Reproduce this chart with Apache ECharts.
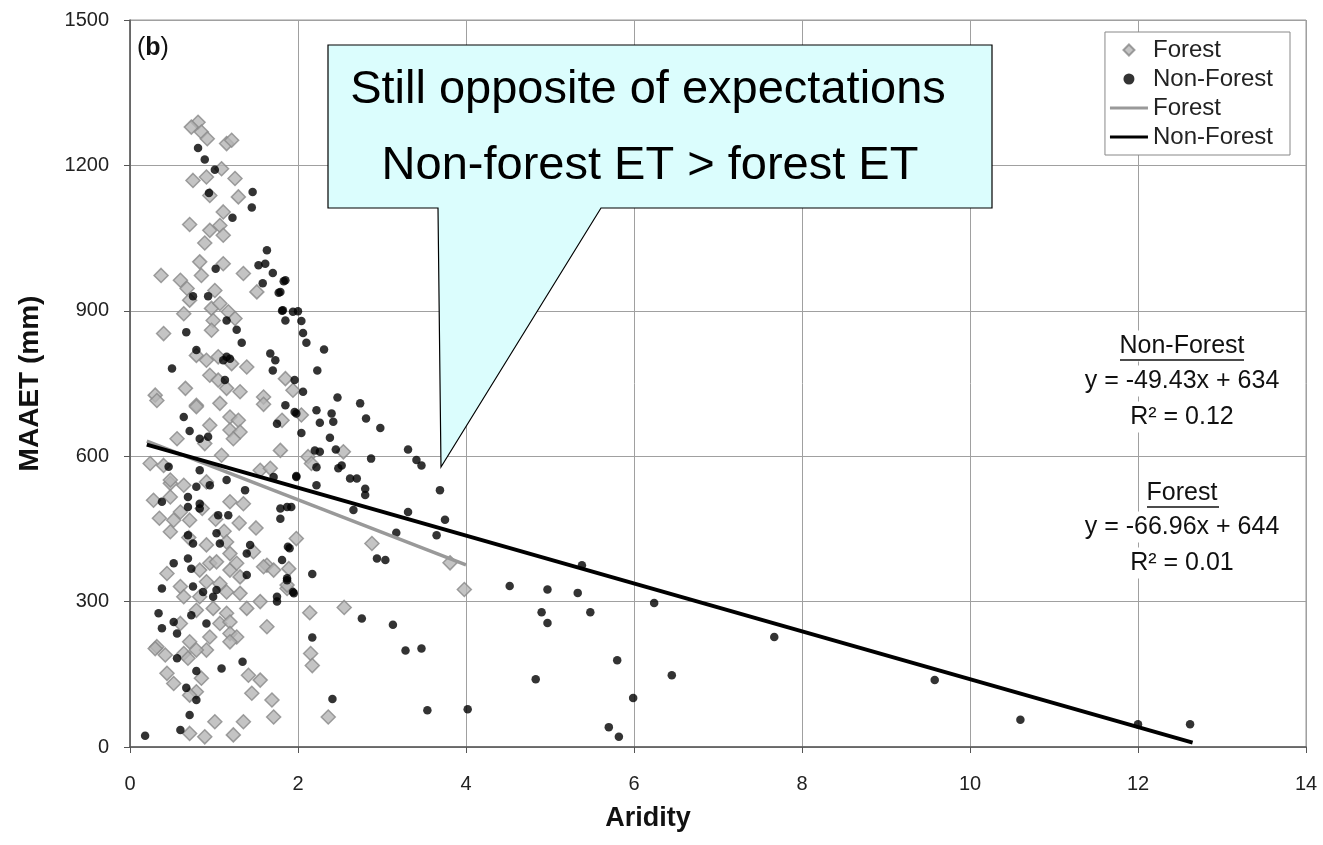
<!DOCTYPE html>
<html><head><meta charset="utf-8">
<script src="https://cdn.jsdelivr.net/npm/echarts@6/dist/echarts.min.js"></script>
<style>html,body{margin:0;padding:0;background:#fff}#c{width:1323px;height:845px}</style>
</head><body><div id="c"></div>
<script>
// Forest (gray diamonds): [aridity, MAAET]
const forestPoints = [
[0.81,1289],[0.73,1279],[0.85,1269],[0.92,1255],[1.15,1245],[1.21,1252],[0.75,1169],[0.91,1176],[1.09,1193],[1.25,1173],
[1.29,1135],[0.95,1138],[1.11,1104],[1.07,1076],[0.95,1066],[0.71,1078],[0.89,1040],[1.11,1056],
[0.37,973],[0.6,963],[0.83,1001],[1.11,997],[1.35,977],[0.68,946],[0.85,973],[1.01,942],[0.71,922],[0.64,894],
[0.97,905],[1.07,915],[1.17,898],[0.99,880],[1.25,884],[0.97,860],[0.4,853],[1.51,939],[0.79,808],[0.91,798],
[1.05,805],[1.21,791],[1.39,784],[0.95,767],[1.05,757],[0.66,740],[0.3,726],[1.15,740],[1.31,733],[1.85,760],
[1.94,736],[1.59,722],
[2.04,685],[1.79,612],[2.12,599],[2.16,585],[2.54,609],[1.81,674],
[1.98,430],[2.88,420],[3.81,380],[3.98,325],[2.14,277],[2.55,288],[2.15,193],[2.17,168],[2.36,62],[1.89,368],[1.87,327],
[0.32,715],[0.79,705],[1.07,709],[1.59,707],[0.95,664],[1.19,681],[1.29,674],[1.19,654],[1.31,650],[1.23,636],
[0.56,636],[0.89,626],[0.24,585],[0.4,581],[1.09,602],[1.55,571],[1.67,575],[0.48,544],[0.64,540],[0.91,547],
[0.28,509],[0.48,516],[1.19,506],[1.35,502],[0.52,468],[0.71,468],[0.79,702],[0.48,551],
[0.6,485],[0.86,492],[1.02,470],[1.3,462],[1.5,452],[0.35,472],[1.12,445],[0.7,432],
[0.48,444],[0.91,417],[1.15,423],[1.19,399],[1.47,403],[1.63,375],[0.44,358],[0.6,331],[0.83,365],[0.95,379],
[1.03,382],[1.19,365],[1.27,379],[1.31,351],[0.91,341],[1.07,337],[1.15,320],[0.64,310],[0.83,310],[1.31,317],
[1.59,372],[1.71,365],[1.87,334],[1.55,300],[1.39,286],[0.79,282],[0.99,286],[1.15,276],[0.6,255],[1.07,255],
[1.19,258],[1.63,248],[0.32,207],[0.71,217],[1.19,234],[1.27,227],[0.95,227],
[0.3,203],[0.42,190],[0.64,193],[0.69,183],[0.91,200],[0.79,200],[0.44,152],[0.52,131],[0.85,142],[0.79,114],
[0.71,107],[1.41,148],[1.55,138],[1.45,111],[1.69,97],[1.71,62],[1.01,52],[1.35,52],[1.23,25],[0.89,21],[0.71,28],[1.19,217]
];
// Non-forest (black dots): [aridity, MAAET]
const nonForestPoints = [
[0.81,1236],[0.89,1212],[1.01,1191],[0.94,1143],[1.46,1145],[1.45,1113],[1.22,1092],[1.63,1025],
[1.02,987],[1.53,994],[1.61,997],[1.7,978],[1.83,961],[1.58,957],[1.77,937],[0.75,930],[0.93,930],[1.81,900],
[1.94,898],[2.0,899],[1.85,880],[2.04,879],[2.06,854],[2.1,834],[1.15,880],[1.27,861],[0.67,856],[0.79,819],
[1.33,834],[1.15,805],[1.11,798],[1.19,801],[1.67,812],[1.73,798],[1.7,777],[0.5,781],[1.13,757],[1.96,757],
[2.06,733],
[1.85,963],[1.79,939],[1.82,901],[2.31,820],[2.23,777],[2.47,721],[2.74,709],[2.81,678],[2.98,658],[1.85,705],
[1.96,691],[2.22,695],[2.4,688],[2.42,671],[2.26,669],[2.04,648],[2.38,638],[2.2,612],[2.26,609],[2.45,614],
[2.87,595],[3.31,614],[3.41,592],[3.47,581],[2.52,581],[2.48,575],[2.22,577],[2.62,554],[2.7,554],[2.8,533],
[2.8,520],[3.69,530],[1.98,557],[2.22,540],[3.31,485],[2.66,489],[3.75,469],[1.87,495],[1.92,495],
[3.65,437],[3.17,442],[2.94,389],[3.04,386],[2.17,357],[1.9,410],[1.87,344],[1.95,317],[4.52,332],[2.76,265],
[3.13,252],[3.28,199],[3.47,203],[2.17,226],[2.41,99],[3.54,76],[4.02,78],
[4.9,278],[4.97,256],[4.97,325],[4.83,140],[5.33,318],[5.38,375],[5.48,278],[5.8,179],[5.7,41],[5.82,21],
[5.99,101],[6.24,297],[6.45,148],[7.67,227],[9.58,138],[10.6,56],[12.0,47],[12.62,47],
[0.64,681],[0.71,652],[0.83,636],[0.93,640],[0.46,578],[0.83,571],[0.95,540],[1.15,551],[1.37,530],[0.79,537],
[0.38,506],[0.69,516],[0.69,495],[0.83,502],[0.83,492],[1.05,478],[1.17,478],[1.79,492],[1.79,471],[1.98,688],
[1.75,667],[1.98,559],[1.71,557],
[0.69,437],[0.75,420],[1.03,441],[1.07,420],[0.52,379],[0.69,389],[0.73,368],[1.43,417],[1.39,399],[1.39,355],
[1.81,386],[1.88,413],[1.87,348],[1.94,320],[0.38,327],[0.75,331],[0.87,320],[0.99,310],[1.03,324],[1.75,310],
[1.75,300],[0.34,276],[0.38,245],[0.52,258],[0.56,234],[0.73,272],[0.91,255],
[0.56,183],[0.79,157],[0.79,97],[0.67,122],[1.09,162],[1.34,176],[0.71,66],[0.6,35],[0.18,23]
];
// Trend line end points (from the printed equations)
const forestFitLine = [[0.2,631],[4.0,376]];
const nonForestFitLine = [[0.2,624],[12.65,9]];
const xTicks = [0,2,4,6,8,10,12,14];
const yTicks = [0,300,600,900,1200,1500];
const calloutLines = ['Still opposite of expectations','Non-forest ET > forest ET'];
const nonForestEq = ['Non-Forest','y = -49.43x + 634','R² = 0.12'];
const forestEq = ['Forest','y = -66.96x + 644','R² = 0.01'];

const FONT = 'Arial, "Liberation Sans", sans-serif';
const chart = echarts.init(document.getElementById('c'));
const eqText = (t, x, y) => ({type:'text', z:50, style:{text:t, x, y, align:'center', verticalAlign:'middle',
  font:'25px '+FONT, fill:'#111', backgroundColor:'#fff', padding:[3,6]}});
const lineIcon = 'path://M0,0 H40 V3 H0 Z';
chart.setOption({
  animation:false,
  backgroundColor:'#fff',
  grid:{left:130, right:17, top:20, bottom:98, show:true, borderColor:'#999', borderWidth:1},
  xAxis:{type:'value', min:0, max:14, interval:2,
    name:'Aridity', nameLocation:'middle', nameGap:58,
    nameTextStyle:{fontFamily:FONT, fontSize:27, fontWeight:'bold', color:'#111', padding:[0,140,0,0]},
    axisLine:{show:true, lineStyle:{color:'#555', width:1.5}},
    axisTick:{show:true, inside:false, length:6, lineStyle:{color:'#555'}},
    axisLabel:{fontFamily:FONT, fontSize:20, color:'#222', margin:27,
      formatter:v=>xTicks.includes(v)?String(v):''},
    splitLine:{show:true, lineStyle:{color:'#a0a0a0', width:1}}},
  yAxis:{type:'value', min:0, max:1500, interval:300,
    name:'MAAET (mm)', nameLocation:'middle', nameGap:86, nameRotate:90,
    nameTextStyle:{fontFamily:FONT, fontSize:28, fontWeight:'bold', color:'#111'},
    axisLine:{show:true, lineStyle:{color:'#555', width:1.5}},
    axisTick:{show:true, inside:false, length:6, lineStyle:{color:'#555'}},
    axisLabel:{fontFamily:FONT, fontSize:20, color:'#222', margin:21,
      formatter:v=>yTicks.includes(v)?String(v):''},
    splitLine:{show:true, lineStyle:{color:'#a0a0a0', width:1}}},
  legend:{orient:'vertical', right:33, top:32, itemWidth:38, itemHeight:11, itemGap:3,
    symbolKeepAspect:true,
    borderColor:'#888', borderWidth:1, padding:[5,17,5,5], backgroundColor:'#fff',
    textStyle:{fontFamily:FONT, fontSize:24, color:'#222', lineHeight:26},
    formatter:n=>n.replace(' fit',''),
    data:[
      {name:'Forest', icon:'path://M5,0 L10,5 L5,10 L0,5 Z'},
      {name:'Non-Forest', icon:'circle'},
      {name:'Forest fit', icon:lineIcon},
      {name:'Non-Forest fit', icon:lineIcon}]},
  series:[
    {name:'Forest', type:'scatter', data:forestPoints, symbol:'diamond', symbolSize:14, z:2,
      itemStyle:{color:'#b5b5b5', borderColor:'#888', borderWidth:1.5}},
    {name:'Non-Forest', type:'scatter', data:nonForestPoints, symbol:'circle', symbolSize:8.5, z:3,
      itemStyle:{color:'#000'}},
    {name:'Forest fit', type:'line', data:forestFitLine, symbol:'none', showSymbol:false, z:4,
      itemStyle:{color:'#999'}, lineStyle:{color:'#999', width:3.5}},
    {name:'Non-Forest fit', type:'line', data:nonForestFitLine, symbol:'none', showSymbol:false, z:5,
      itemStyle:{color:'#000'}, lineStyle:{color:'#000', width:4}}
  ],
  graphic:[
    {type:'text', z:50, style:{text:'{n|(}{b|b}{n|)}', x:137, y:48, verticalAlign:'middle',
      rich:{n:{fontFamily:FONT, fontSize:25, fill:'#111'}, b:{fontFamily:FONT, fontSize:25, fontWeight:'bold', fill:'#111'}}}},
    {type:'polygon', z:60, shape:{points:[[328,45],[992,45],[992,208],[601,208],[441,467],[438,208],[328,208]]},
      style:{fill:'#dbfdfd', stroke:'#000', lineWidth:1.2}},
    {type:'text', z:61, style:{text:calloutLines[0], x:648, y:90, align:'center', verticalAlign:'middle',
      font:'47px '+FONT, fill:'#000'}},
    {type:'text', z:61, style:{text:calloutLines[1], x:650, y:166, align:'center', verticalAlign:'middle',
      font:'47px '+FONT, fill:'#000'}},
    eqText(nonForestEq[0], 1182, 346),
    {type:'line', z:51, shape:{x1:1120, y1:360, x2:1244, y2:360}, style:{stroke:'#111', lineWidth:1.3}},
    eqText(nonForestEq[1], 1182, 381),
    eqText(nonForestEq[2], 1182, 417),
    eqText(forestEq[0], 1182, 493),
    {type:'line', z:51, shape:{x1:1147, y1:507, x2:1219, y2:507}, style:{stroke:'#111', lineWidth:1.3}},
    eqText(forestEq[1], 1182, 527),
    eqText(forestEq[2], 1182, 563)
  ]
});
</script></body></html>
